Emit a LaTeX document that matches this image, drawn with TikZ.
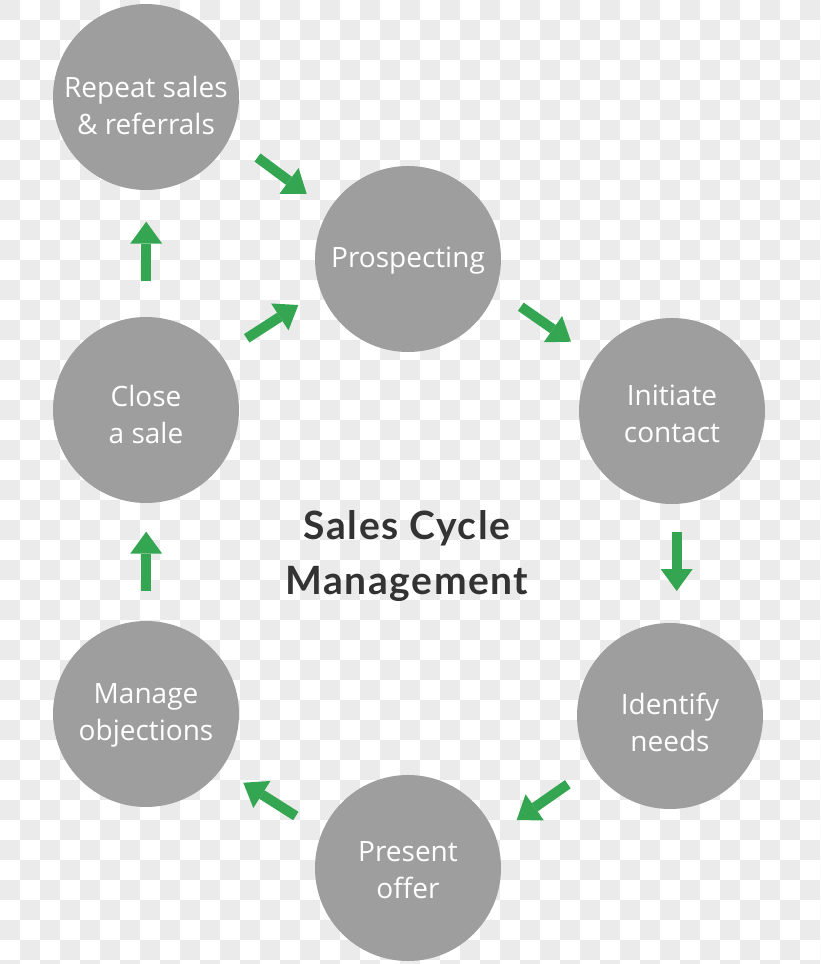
\documentclass[tikz,border=0pt]{standalone}
\usepackage{fontspec}
\setmainfont{Open Sans}
\newfontfamily\titlefont{Lato}[LetterSpace=4]
\usetikzlibrary{arrows.meta,calc}
\definecolor{bubgray}{HTML}{9E9E9E}
\definecolor{agreen}{HTML}{34A551}
\definecolor{checker}{HTML}{EBEBEB}
\definecolor{titlegray}{HTML}{333333}
\tikzset{
  bub/.style={circle, fill=bubgray, minimum size=186pt, inner sep=0pt},
  bubtext/.style={text=white, align=center, inner sep=0pt,
    font=\fontsize{28}{37}\selectfont},
  arr/.style={draw=agreen, line width=10pt,
    -{Triangle[width=32pt,length=22pt,line width=0pt]}},
  titlenode/.style={align=center, text=titlegray,
    font=\titlefont\bfseries\fontsize{39}{55}\selectfont}
}
\begin{document}
\begin{tikzpicture}[x=1pt,y=-1pt]
\useasboundingbox (0,0) rectangle (820,964);
\begin{scope}
  \clip (0,0) rectangle (820,964);
  \fill[white] (0,0) rectangle (820,964);
  \foreach \j in {0,...,48}{
    \pgfmathtruncatemacro\off{mod(\j,2)}
    \foreach \i in {0,2,...,40}{
      \fill[checker] ({(\i+\off)*20},{\j*20}) rectangle +(20,20);
    }
  }
\end{scope}
% bubbles
\node[bub] (rep) at (146,97)  {};
\node[bub] (pro) at (408,259) {};
\node[bub] (ini) at (672,411) {};
\node[bub] (ide) at (670,716) {};
\node[bub] (pre) at (408,868) {};
\node[bub] (man) at (146,714) {};
\node[bub] (clo) at (146,410) {};
% bubble texts
\node[bubtext] (rept) at ($(rep)+(0,8)$) {Repeat sales\\\& referrals};
\node[bubtext] (prot) at ($(pro)+(0,2)$) {Prospecting};
\node[bubtext] (init) at ($(ini)+(0,3)$) {Initiate\\contact};
\node[bubtext] (idet) at ($(ide)+(0,6)$) {Identify\\needs};
\node[bubtext] (pret) at ($(pre)+(0,2)$) {Present\\offer};
\node[bubtext] (mant) at ($(man)+(0,1)$) {Manage\\objections};
\node[bubtext] (clot) at ($(clo)+(0,4)$) {Close\\a sale};
% title
\node[titlenode] (title) at (407,556) {Sales Cycle\\Management};
% arrow end points, placed relative to the bubbles
\coordinate (a1s) at ($(rep)+(111.5,60.5)$);
\coordinate (a1e) at ($(pro)+(-101.3,-65)$);
\coordinate (a2s) at ($(pro)+(112.8,47.7)$);
\coordinate (a2e) at ($(ini)+(-101,-69.3)$);
\coordinate (a3s) at ($(ini)+(4.7,120.7)$);
\coordinate (a3e) at ($(ide)+(6.7,-125)$);
\coordinate (a4s) at ($(ide)+(-102.2,68.2)$);
\coordinate (a4e) at ($(pre)+(108.7,-48)$);
\coordinate (a5s) at ($(pre)+(-112.2,-52)$);
\coordinate (a5e) at ($(man)+(97.3,68.7)$);
\coordinate (a6s) at ($(man)+(0.2,-123)$);
\coordinate (a6e) at ($(clo)+(0.2,121.7)$);
\coordinate (a7s) at ($(clo)+(100.7,-71.7)$);
\coordinate (a7e) at ($(pro)+(-109.7,46)$);
\coordinate (a8s) at ($(clo)+(0.2,-129)$);
\coordinate (a8e) at ($(rep)+(0.2,124.7)$);
\draw[arr] (a1s) -- (a1e);
\draw[arr] (a2s) -- (a2e);
\draw[arr] (a3s) -- (a3e);
\draw[arr] (a4s) -- (a4e);
\draw[arr] (a5s) -- (a5e);
\draw[arr] (a6s) -- (a6e);
\draw[arr] (a7s) -- (a7e);
\draw[arr] (a8s) -- (a8e);
\end{tikzpicture}
\end{document}
